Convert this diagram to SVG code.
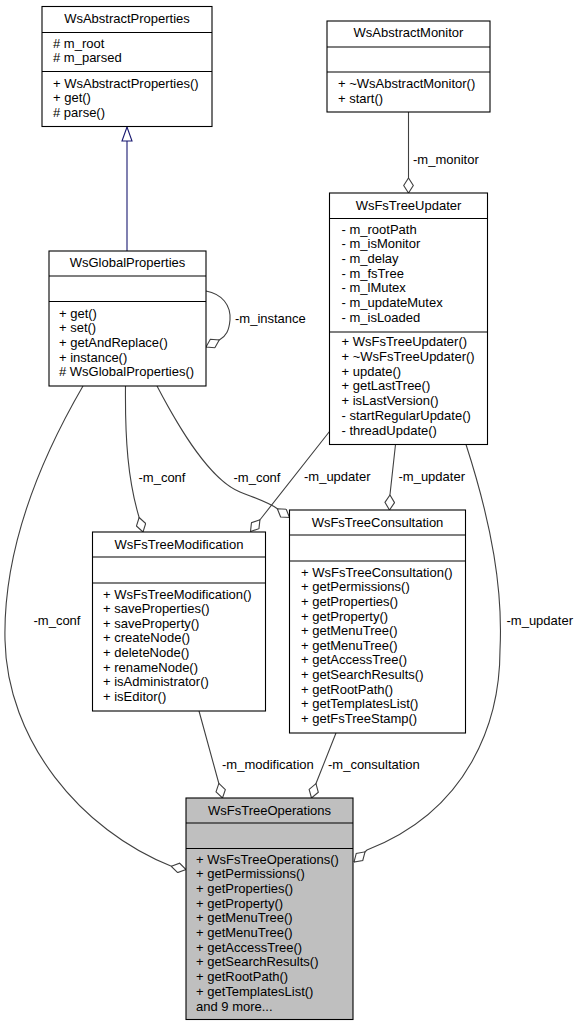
<svg xmlns="http://www.w3.org/2000/svg" width="575" height="1027" viewBox="0 0 575 1027">
<style>
text{font-family:"Liberation Sans",Arial,Helvetica,sans-serif;font-size:13px;fill:#000}
.t{text-anchor:middle}
.box{fill:#fff;stroke:#000;stroke-width:1.1}
.sel{fill:#bfbfbf;stroke:#000;stroke-width:1.1}
.div{stroke:#000;stroke-width:1.1}
.e{fill:none;stroke:#404040;stroke-width:1.1;marker-end:url(#dia)}
.inh{fill:none;stroke:#191970;stroke-width:1.1;marker-end:url(#tri)}
</style>
<defs>
<marker id="dia" markerUnits="userSpaceOnUse" viewBox="0 0 16 11" markerWidth="16" markerHeight="11" refX="15.5" refY="5.5" orient="auto">
<path d="M0.5,5.5 L8,0.7 L15.5,5.5 L8,10.3 Z" fill="#fff" stroke="#404040" stroke-width="1.1"/>
</marker>
<marker id="tri" markerUnits="userSpaceOnUse" viewBox="0 0 15 12" markerWidth="15" markerHeight="12" refX="14.5" refY="6" orient="auto">
<path d="M0.5,1 L14.5,6 L0.5,11 Z" fill="#fff" stroke="#191970" stroke-width="1.1"/>
</marker>
</defs>

<g id="edges">
<path class="inh" d="M127,251 L127,127"/>
<path class="e" d="M408.5,112 L408.5,177 L408.5,193"/>
<path class="e" d="M206,291 C222,294 231,305 230,320 C229,331 226,336 220,339.5 L206,347"/>
<path class="e" d="M83,386 C40,460 3,550 5,640 C7,740 80,830 172,866.5 L186,869.5"/>
<path class="e" d="M125.5,386 C125,440 128,480 139,517 L143,532"/>
<path class="e" d="M157,386 C180,430 210,480 240,492 C255,498 268,502 277,508.5 L289.5,517.5"/>
<path class="e" d="M329.5,431.5 L261,518.5 L250.5,531.5"/>
<path class="e" d="M395.5,444.5 L390,494.5 L389.5,510"/>
<path class="e" d="M466,444.5 C492,525 503,590 500,650 C500,720 470,810 367,850 L354,862"/>
<path class="e" d="M199,711 L219,784 L222.5,798"/>
<path class="e" d="M336,733 L316,783.5 L311.5,798"/>
<text x="413" y="163.5">-m_monitor</text>
<text x="235" y="322.5">-m_instance</text>
<text x="33.5" y="625">-m_conf</text>
<text x="138.5" y="482">-m_conf</text>
<text x="233.5" y="482">-m_conf</text>
<text x="304" y="481">-m_updater</text>
<text x="398.5" y="481">-m_updater</text>
<text x="506.5" y="625">-m_updater</text>
<text x="222" y="769">-m_modification</text>
<text x="328" y="769">-m_consultation</text>
</g>

<g id="WsAbstractProperties">
<rect class="box" x="42" y="6.5" width="170" height="120"/>
<line class="div" x1="42" y1="32.5" x2="212" y2="32.5"/>
<line class="div" x1="42" y1="71.5" x2="212" y2="71.5"/>
<text class="t" x="127" y="23">WsAbstractProperties</text>
<text x="53" y="47.5"># m_root</text>
<text x="53" y="62.2"># m_parsed</text>
<text x="53" y="87.5">+ WsAbstractProperties()</text>
<text x="53" y="102.2">+ get()</text>
<text x="53" y="116.9"># parse()</text>
</g>

<g id="WsGlobalProperties">
<rect class="box" x="49" y="251" width="157" height="135"/>
<line class="div" x1="49" y1="276" x2="206" y2="276"/>
<line class="div" x1="49" y1="301.5" x2="206" y2="301.5"/>
<text class="t" x="127.5" y="267">WsGlobalProperties</text>
<text x="59" y="317.5">+ get()</text>
<text x="59" y="332.2">+ set()</text>
<text x="59" y="346.9">+ getAndReplace()</text>
<text x="59" y="361.6">+ instance()</text>
<text x="59" y="376.3"># WsGlobalProperties()</text>
</g>

<g id="WsAbstractMonitor">
<rect class="box" x="327" y="21" width="163" height="91"/>
<line class="div" x1="327" y1="47" x2="490" y2="47"/>
<line class="div" x1="327" y1="72" x2="490" y2="72"/>
<text class="t" x="408.5" y="37">WsAbstractMonitor</text>
<text x="338" y="88">+ ~WsAbstractMonitor()</text>
<text x="338" y="102.7">+ start()</text>
</g>

<g id="WsFsTreeUpdater">
<rect class="box" x="329.5" y="193" width="158" height="251.5"/>
<line class="div" x1="329.5" y1="218.5" x2="487.5" y2="218.5"/>
<line class="div" x1="329.5" y1="332" x2="487.5" y2="332"/>
<text class="t" x="408.5" y="209.5">WsFsTreeUpdater</text>
<text x="341.5" y="233.5">- m_rootPath</text>
<text x="341.5" y="248.2">- m_isMonitor</text>
<text x="341.5" y="262.9">- m_delay</text>
<text x="341.5" y="277.6">- m_fsTree</text>
<text x="341.5" y="292.3">- m_lMutex</text>
<text x="341.5" y="307">- m_updateMutex</text>
<text x="341.5" y="321.7">- m_isLoaded</text>
<text x="341.5" y="346.3">+ WsFsTreeUpdater()</text>
<text x="341.5" y="361">+ ~WsFsTreeUpdater()</text>
<text x="341.5" y="375.7">+ update()</text>
<text x="341.5" y="390.4">+ getLastTree()</text>
<text x="341.5" y="405.1">+ isLastVersion()</text>
<text x="341.5" y="419.8">- startRegularUpdate()</text>
<text x="341.5" y="434.5">- threadUpdate()</text>
</g>

<g id="WsFsTreeModification">
<rect class="box" x="92.5" y="532" width="173" height="179"/>
<line class="div" x1="92.5" y1="557" x2="265.5" y2="557"/>
<line class="div" x1="92.5" y1="583" x2="265.5" y2="583"/>
<text class="t" x="179" y="548.5">WsFsTreeModification</text>
<text x="103" y="598.5">+ WsFsTreeModification()</text>
<text x="103" y="613.1">+ saveProperties()</text>
<text x="103" y="627.7">+ saveProperty()</text>
<text x="103" y="642.3">+ createNode()</text>
<text x="103" y="656.9">+ deleteNode()</text>
<text x="103" y="671.5">+ renameNode()</text>
<text x="103" y="686.1">+ isAdministrator()</text>
<text x="103" y="700.7">+ isEditor()</text>
</g>

<g id="WsFsTreeConsultation">
<rect class="box" x="289.5" y="510" width="176" height="223"/>
<line class="div" x1="289.5" y1="535" x2="465.5" y2="535"/>
<line class="div" x1="289.5" y1="561" x2="465.5" y2="561"/>
<text class="t" x="377.5" y="526.5">WsFsTreeConsultation</text>
<text x="301" y="576.7">+ WsFsTreeConsultation()</text>
<text x="301" y="591.3">+ getPermissions()</text>
<text x="301" y="605.9">+ getProperties()</text>
<text x="301" y="620.5">+ getProperty()</text>
<text x="301" y="635.1">+ getMenuTree()</text>
<text x="301" y="649.7">+ getMenuTree()</text>
<text x="301" y="664.3">+ getAccessTree()</text>
<text x="301" y="678.9">+ getSearchResults()</text>
<text x="301" y="693.5">+ getRootPath()</text>
<text x="301" y="708.1">+ getTemplatesList()</text>
<text x="301" y="722.7">+ getFsTreeStamp()</text>
</g>

<g id="WsFsTreeOperations">
<rect class="sel" x="186" y="798" width="167" height="221.5"/>
<line class="div" x1="186" y1="823" x2="353" y2="823"/>
<line class="div" x1="186" y1="848.5" x2="353" y2="848.5"/>
<text class="t" x="269.5" y="814.5">WsFsTreeOperations</text>
<text x="196" y="863.5">+ WsFsTreeOperations()</text>
<text x="196" y="878.2">+ getPermissions()</text>
<text x="196" y="892.9">+ getProperties()</text>
<text x="196" y="907.6">+ getProperty()</text>
<text x="196" y="922.3">+ getMenuTree()</text>
<text x="196" y="937">+ getMenuTree()</text>
<text x="196" y="951.7">+ getAccessTree()</text>
<text x="196" y="966.4">+ getSearchResults()</text>
<text x="196" y="981.1">+ getRootPath()</text>
<text x="196" y="995.8">+ getTemplatesList()</text>
<text x="196" y="1010.5">and 9 more...</text>
</g>
</svg>
